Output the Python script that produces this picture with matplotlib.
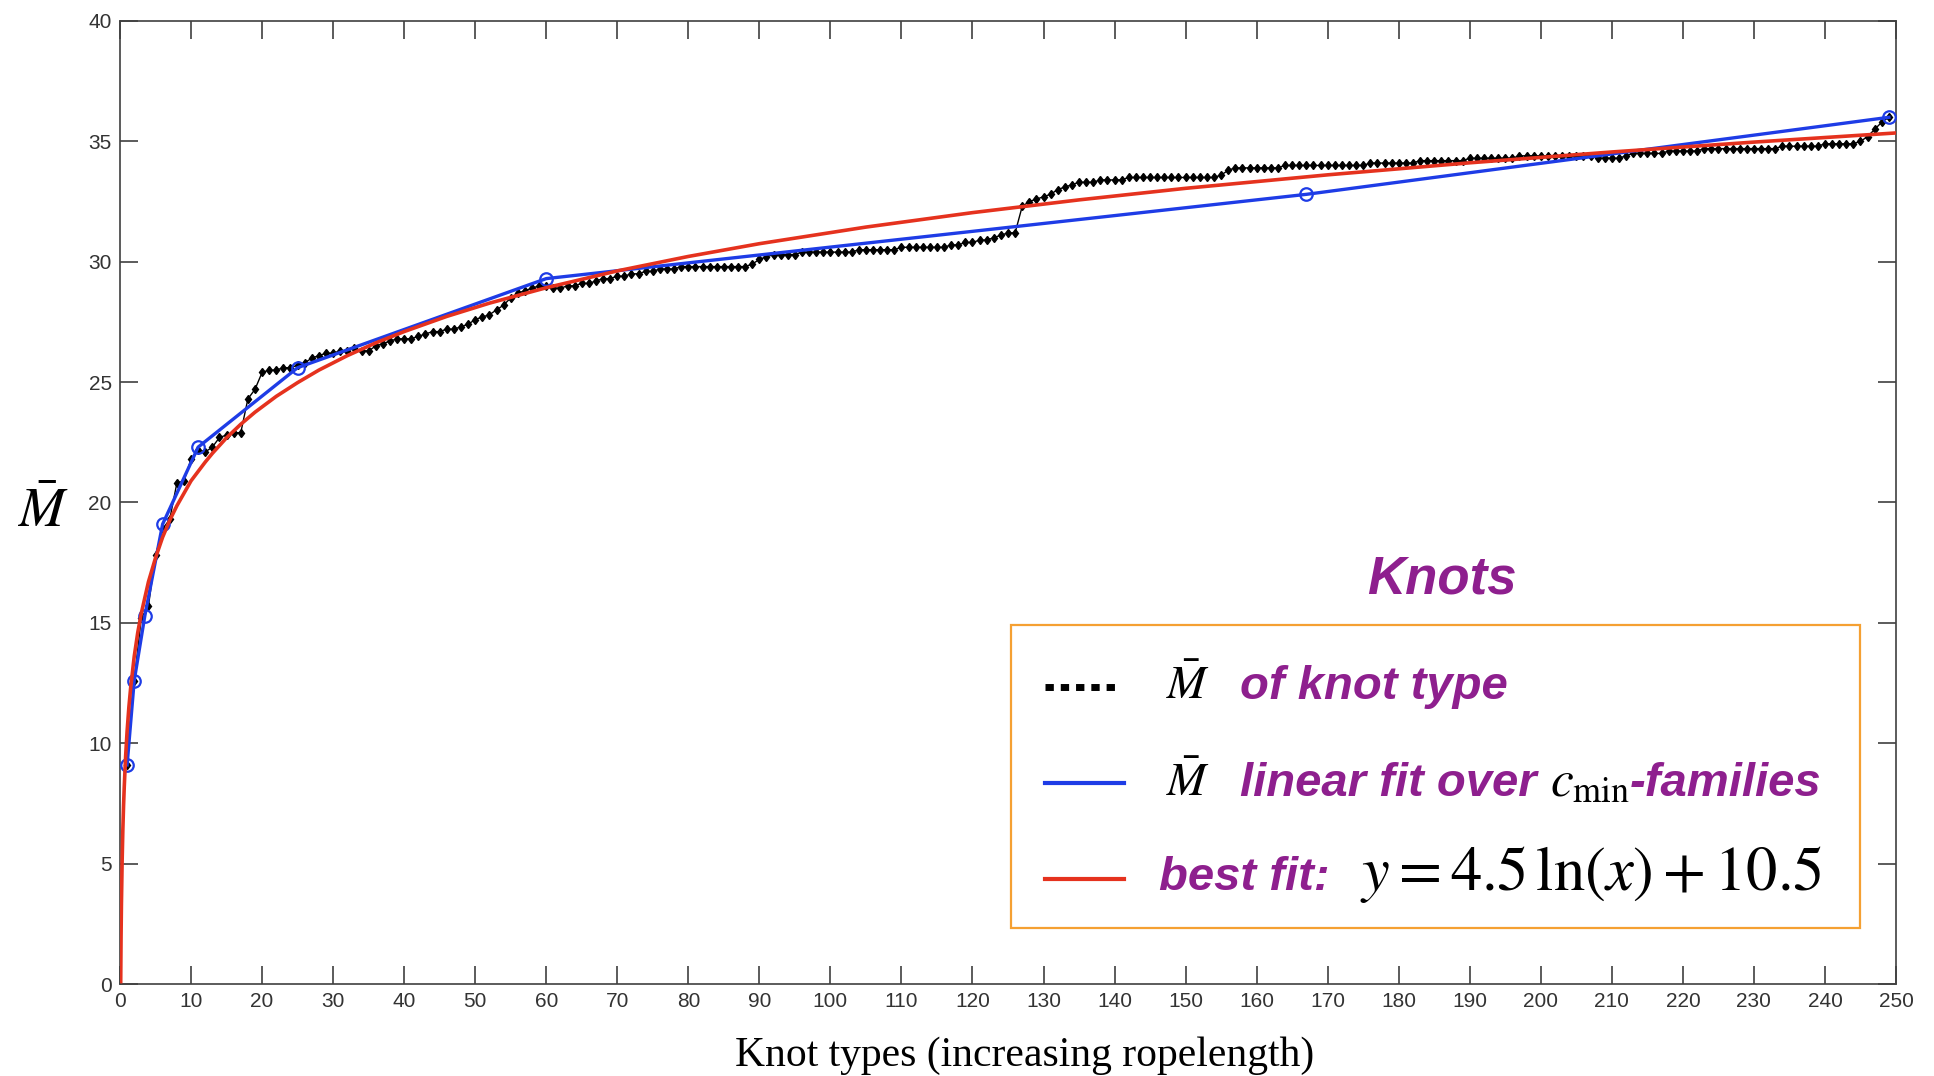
import matplotlib
matplotlib.use('Agg')
import matplotlib.pyplot as plt
import numpy as np
from matplotlib.lines import Line2D

plt.rcParams['mathtext.fontset'] = 'stix'

# M-bar of each knot type, knots ordered by increasing ropelength
knot_mbar = [
    9.1, 12.6, 15.2, 15.7, 17.8, 18.9, 19.3, 20.8, 20.9, 21.8,
    22.2, 22.1, 22.3, 22.7, 22.8, 22.9, 22.9, 24.3, 24.7, 25.4,
    25.5, 25.5, 25.6, 25.6, 25.7, 25.8, 26.0, 26.1, 26.2, 26.2,
    26.3, 26.3, 26.4, 26.3, 26.3, 26.5, 26.6, 26.7, 26.8, 26.8,
    26.8, 26.9, 27.0, 27.1, 27.1, 27.2, 27.2, 27.3, 27.4, 27.6,
    27.7, 27.8, 28.0, 28.2, 28.5, 28.7, 28.8, 28.9, 29.0, 29.0,
    28.9, 28.9, 29.0, 29.0, 29.1, 29.1, 29.2, 29.3, 29.3, 29.4,
    29.4, 29.5, 29.5, 29.6, 29.6, 29.7, 29.7, 29.7, 29.8, 29.8,
    29.8, 29.8, 29.8, 29.8, 29.8, 29.8, 29.8, 29.8, 29.9, 30.1,
    30.2, 30.3, 30.3, 30.3, 30.3, 30.4, 30.4, 30.4, 30.4, 30.4,
    30.4, 30.4, 30.4, 30.5, 30.5, 30.5, 30.5, 30.5, 30.5, 30.6,
    30.6, 30.6, 30.6, 30.6, 30.6, 30.6, 30.7, 30.7, 30.8, 30.8,
    30.9, 30.9, 31.0, 31.1, 31.2, 31.2, 32.3, 32.5, 32.6, 32.7,
    32.8, 33.0, 33.1, 33.2, 33.3, 33.3, 33.3, 33.4, 33.4, 33.4,
    33.4, 33.5, 33.5, 33.5, 33.5, 33.5, 33.5, 33.5, 33.5, 33.5,
    33.5, 33.5, 33.5, 33.5, 33.6, 33.8, 33.9, 33.9, 33.9, 33.9,
    33.9, 33.9, 33.9, 34.0, 34.0, 34.0, 34.0, 34.0, 34.0, 34.0,
    34.0, 34.0, 34.0, 34.0, 34.0, 34.1, 34.1, 34.1, 34.1, 34.1,
    34.1, 34.1, 34.2, 34.2, 34.2, 34.2, 34.2, 34.2, 34.2, 34.3,
    34.3, 34.3, 34.3, 34.3, 34.3, 34.3, 34.4, 34.4, 34.4, 34.4,
    34.4, 34.4, 34.4, 34.4, 34.4, 34.4, 34.4, 34.3, 34.3, 34.3,
    34.3, 34.4, 34.5, 34.5, 34.5, 34.5, 34.5, 34.6, 34.6, 34.6,
    34.6, 34.6, 34.7, 34.7, 34.7, 34.7, 34.7, 34.7, 34.7, 34.7,
    34.7, 34.7, 34.7, 34.8, 34.8, 34.8, 34.8, 34.8, 34.8, 34.9,
    34.9, 34.9, 34.9, 34.9, 35.0, 35.2, 35.5, 35.8, 36.0,
]
knot_idx = np.arange(1, len(knot_mbar) + 1)

# linear fit over c_min families (family centres)
family_x = [1, 2, 3.5, 6, 11, 25, 60, 167, 249]
family_mbar = [9.1, 12.6, 15.3, 19.1, 22.3, 25.6, 29.3, 32.8, 36.0]

# best-fit curve
fit_x = [0.1, 0.15, 0.2, 0.3, 0.4, 0.5, 0.6, 0.8, 1, 1.25, 1.5, 2, 2.5, 3,
         4, 5, 6, 7, 8, 10, 12, 13, 15, 17, 19, 22, 25, 28, 32, 36, 40, 46,
         52, 60, 70, 80, 90, 105, 120, 135, 150, 170, 190, 210, 230, 250]
fit_y = [0.1, 2.0, 3.3, 5.1, 6.4, 7.4, 8.2, 9.5, 10.5, 11.5, 12.3, 13.6, 14.6, 15.4,
         16.7, 17.7, 18.56, 19.26, 19.86, 20.9, 21.68, 22.04, 22.69, 23.25, 23.75,
         24.41, 24.98, 25.5, 26.1, 26.63, 27.1, 27.73, 28.28, 28.92, 29.62, 30.22,
         30.75, 31.44, 32.04, 32.57, 33.05, 33.61, 34.11, 34.56, 34.97, 35.35]

W, H = 1934, 1076
fig = plt.figure(figsize=(W / 100, H / 100), dpi=100)
ax = fig.add_axes([120 / W, 1 - 984 / H, (1896 - 120) / W, (984 - 21) / H])

purple = '#8E1F8E'
red = '#E5321E'
blue = '#1E3CE6'

ax.plot(knot_idx, knot_mbar, color='black', lw=1.0, marker='d', ms=4.5, zorder=2)
ax.plot(family_x, family_mbar, color=blue, lw=2.4, marker='o', ms=9,
        mfc='none', mec=blue, mew=1.6, zorder=3)
ax.plot(fit_x, fit_y, color=red, lw=2.6, zorder=4)

ax.set_xlim(0, 250)
ax.set_ylim(0, 40)
ax.set_xticks(np.arange(0, 251, 10))
ax.set_yticks(np.arange(0, 41, 5))
ax.tick_params(direction='in', length=13, width=1.2, top=True, right=True,
               colors='#404040', labelsize=15, pad=6)
for lab in ax.get_xticklabels() + ax.get_yticklabels():
    lab.set_family('Liberation Sans')
    lab.set_color('#333333')
for sp in ax.spines.values():
    sp.set_color('#404040')
    sp.set_linewidth(1.2)


def fx(px):
    return px / W


def fy(py):
    return 1 - py / H


# axis labels
fig.text(fx(43), fy(512), r'$\bar{M}$', fontsize=40, ha='center', va='center')
fig.text(fx(1025), fy(1056), 'Knot types (increasing ropelength)',
         family='Liberation Serif', fontsize=30, ha='center', va='center')

# legend block
fig.text(fx(1442), fy(594), 'Knots', color=purple, fontsize=38,
         family='Liberation Sans', weight='bold', style='italic',
         ha='center', va='baseline')
box = plt.Rectangle((fx(1011), fy(928)), fx(1860) - fx(1011), fy(625) - fy(928),
                    transform=fig.transFigure, fill=False, ec='#F5A032', lw=1.6)
fig.add_artist(box)

fig.add_artist(Line2D([fx(1045), fx(1120)], [fy(687), fy(687)],
                      transform=fig.transFigure, color='black', lw=5,
                      dashes=(1.2, 1.0), dash_capstyle='butt'))
fig.add_artist(Line2D([fx(1045), fx(1124)], [fy(783), fy(783)],
                      transform=fig.transFigure, color=blue, lw=3))
fig.add_artist(Line2D([fx(1045), fx(1124)], [fy(879), fy(879)],
                      transform=fig.transFigure, color=red, lw=3))

renderer = fig.canvas.get_renderer()
pstyle = dict(color=purple, fontsize=34, family='Liberation Sans',
              weight='bold', style='italic', va='baseline')


def chain(x0, y0, parts):
    x = fx(x0)
    for s, kw, gap in parts:
        t = fig.text(x, fy(y0), s, **kw)
        bb = t.get_window_extent(renderer)
        x = (bb.x1 + gap) / W


mstyle = dict(color='black', fontsize=34, va='baseline')
fig.text(fx(1166), fy(699), r'$\bar{M}$', **mstyle)
fig.text(fx(1240), fy(699), 'of knot type', **pstyle)
fig.text(fx(1166), fy(796), r'$\bar{M}$', **mstyle)
chain(1240, 796, [('linear fit over ', pstyle, 0),
                  (r'$c_{\mathrm{min}}$', dict(color='black', fontsize=37, va='baseline'), 0),
                  ('-families', pstyle, 0)])
fig.text(fx(1159), fy(890), 'best fit:', **pstyle)
fig.text(fx(1360), fy(890), r'$y = 4.5\,\ln(x) + 10.5$', color='black',
         fontsize=45, va='baseline')

fig.savefig('out.png', dpi=100)
